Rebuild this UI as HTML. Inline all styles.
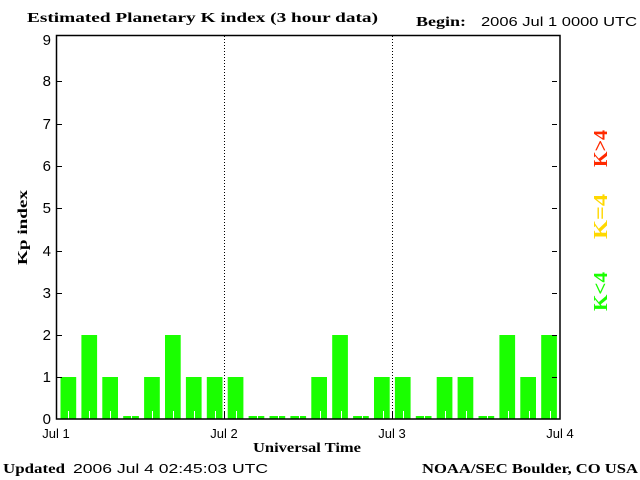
<!DOCTYPE html>
<html><head><meta charset="utf-8"><style>
html,body{margin:0;padding:0;background:#fff;width:640px;height:480px;overflow:hidden}
svg text{font-family:"Liberation Sans",sans-serif}
svg text.s,svg .s text{font-family:"Liberation Serif",serif;font-weight:bold}
</style></head><body>
<svg width="640" height="480" xmlns="http://www.w3.org/2000/svg">
<rect width="640" height="480" fill="#fff"/>
<g fill="#1aff00">
<rect x="60.5" y="377" width="15.7" height="42"/>
<rect x="81.4" y="335" width="15.7" height="84"/>
<rect x="102.3" y="377" width="15.7" height="42"/>
<rect x="123.2" y="416" width="15.7" height="3"/>
<rect x="144.1" y="377" width="15.7" height="42"/>
<rect x="165" y="335" width="15.7" height="84"/>
<rect x="185.9" y="377" width="15.7" height="42"/>
<rect x="206.8" y="377" width="15.7" height="42"/>
<rect x="227.7" y="377" width="15.7" height="42"/>
<rect x="248.6" y="416" width="15.7" height="3"/>
<rect x="269.5" y="416" width="15.7" height="3"/>
<rect x="290.4" y="416" width="15.7" height="3"/>
<rect x="311.3" y="377" width="15.7" height="42"/>
<rect x="332.2" y="335" width="15.7" height="84"/>
<rect x="353.1" y="416" width="15.7" height="3"/>
<rect x="374" y="377" width="15.7" height="42"/>
<rect x="394.9" y="377" width="15.7" height="42"/>
<rect x="415.8" y="416" width="15.7" height="3"/>
<rect x="436.7" y="377" width="15.7" height="42"/>
<rect x="457.6" y="377" width="15.7" height="42"/>
<rect x="478.5" y="416" width="15.7" height="3"/>
<rect x="499.4" y="335" width="15.7" height="84"/>
<rect x="520.3" y="377" width="15.7" height="42"/>
<rect x="541.2" y="335" width="15.7" height="84"/>
</g>
<g stroke="#fff" stroke-width="1">
<path d="M68.5 411V419M89.5 411V419M110.5 411V419M131.5 411V419M152.5 411V419M173.5 411V419M194.5 411V419M215.5 411V419M236.5 411V419M257.5 411V419M278.5 411V419M299.5 411V419M320.5 411V419M341.5 411V419M362.5 411V419M383.5 411V419M403.5 411V419M424.5 411V419M445.5 411V419M466.5 411V419M487.5 411V419M508.5 411V419M529.5 411V419M550.5 411V419"/>
</g>
<g stroke="#000" stroke-width="1" stroke-dasharray="1,2">
<path d="M224.5 36V419M392.5 36V419"/>
</g>
<g stroke="#000" stroke-width="1">
<path d="M224.5 411V419M392.5 411V419"/>
</g>
<rect x="56.5" y="35.5" width="503.5" height="383.5" fill="none" stroke="#000" stroke-width="1.5"/>
<g stroke="#000" stroke-width="1">
<path d="M57 377.5h5M57 335.5h5M57 293.5h5M57 251.5h5M57 208.5h5M57 166.5h5M57 124.5h5M57 81.5h5M557 377.5h-5M557 335.5h-5M557 293.5h-5M557 251.5h-5M557 208.5h-5M557 166.5h-5M557 124.5h-5M557 81.5h-5"/>
</g>
<g font-size="15" text-anchor="end" fill="#000">
<text x="51" y="424">0</text><text x="51" y="382">1</text><text x="51" y="340">2</text>
<text x="51" y="298">3</text><text x="51" y="256">4</text><text x="51" y="213">5</text>
<text x="51" y="171">6</text><text x="51" y="129">7</text><text x="51" y="86">8</text>
<text x="51" y="45">9</text>
</g>
<g font-size="13" text-anchor="middle" fill="#000">
<text x="56" y="438">Jul 1</text><text x="224" y="438">Jul 2</text>
<text x="392" y="438">Jul 3</text><text x="560" y="438">Jul 4</text>
</g>
<text class="s" x="27" y="22" font-size="14" textLength="351" lengthAdjust="spacingAndGlyphs">Estimated Planetary K index (3 hour data)</text>
<text class="s" x="416" y="26" font-size="14" textLength="50" lengthAdjust="spacingAndGlyphs">Begin:</text>
<text x="481" y="26" font-size="13" textLength="156" lengthAdjust="spacingAndGlyphs">2006 Jul 1 0000 UTC</text>
<text class="s" x="253" y="452" font-size="14" textLength="108" lengthAdjust="spacingAndGlyphs">Universal Time</text>
<text class="s" font-size="14" textLength="75" lengthAdjust="spacingAndGlyphs" transform="translate(27,265) rotate(-90)">Kp index</text>
<text class="s" x="3" y="473" font-size="14" textLength="62" lengthAdjust="spacingAndGlyphs">Updated</text>
<text x="73" y="473" font-size="13" textLength="195" lengthAdjust="spacingAndGlyphs">2006 Jul  4 02:45:03 UTC</text>
<text class="s" x="422" y="473" font-size="14" textLength="216" lengthAdjust="spacingAndGlyphs">NOAA/SEC Boulder, CO USA</text>
<g class="s" font-size="20">
<text fill="#ff2a00" textLength="37" lengthAdjust="spacingAndGlyphs" transform="translate(607,167) rotate(-90)">K&gt;4</text>
<text fill="#ffd800" textLength="45" lengthAdjust="spacingAndGlyphs" transform="translate(607,239) rotate(-90)">K=4</text>
<text fill="#1aff00" textLength="39" lengthAdjust="spacingAndGlyphs" transform="translate(607,311) rotate(-90)">K&lt;4</text>
</g>
</svg>
</body></html>
